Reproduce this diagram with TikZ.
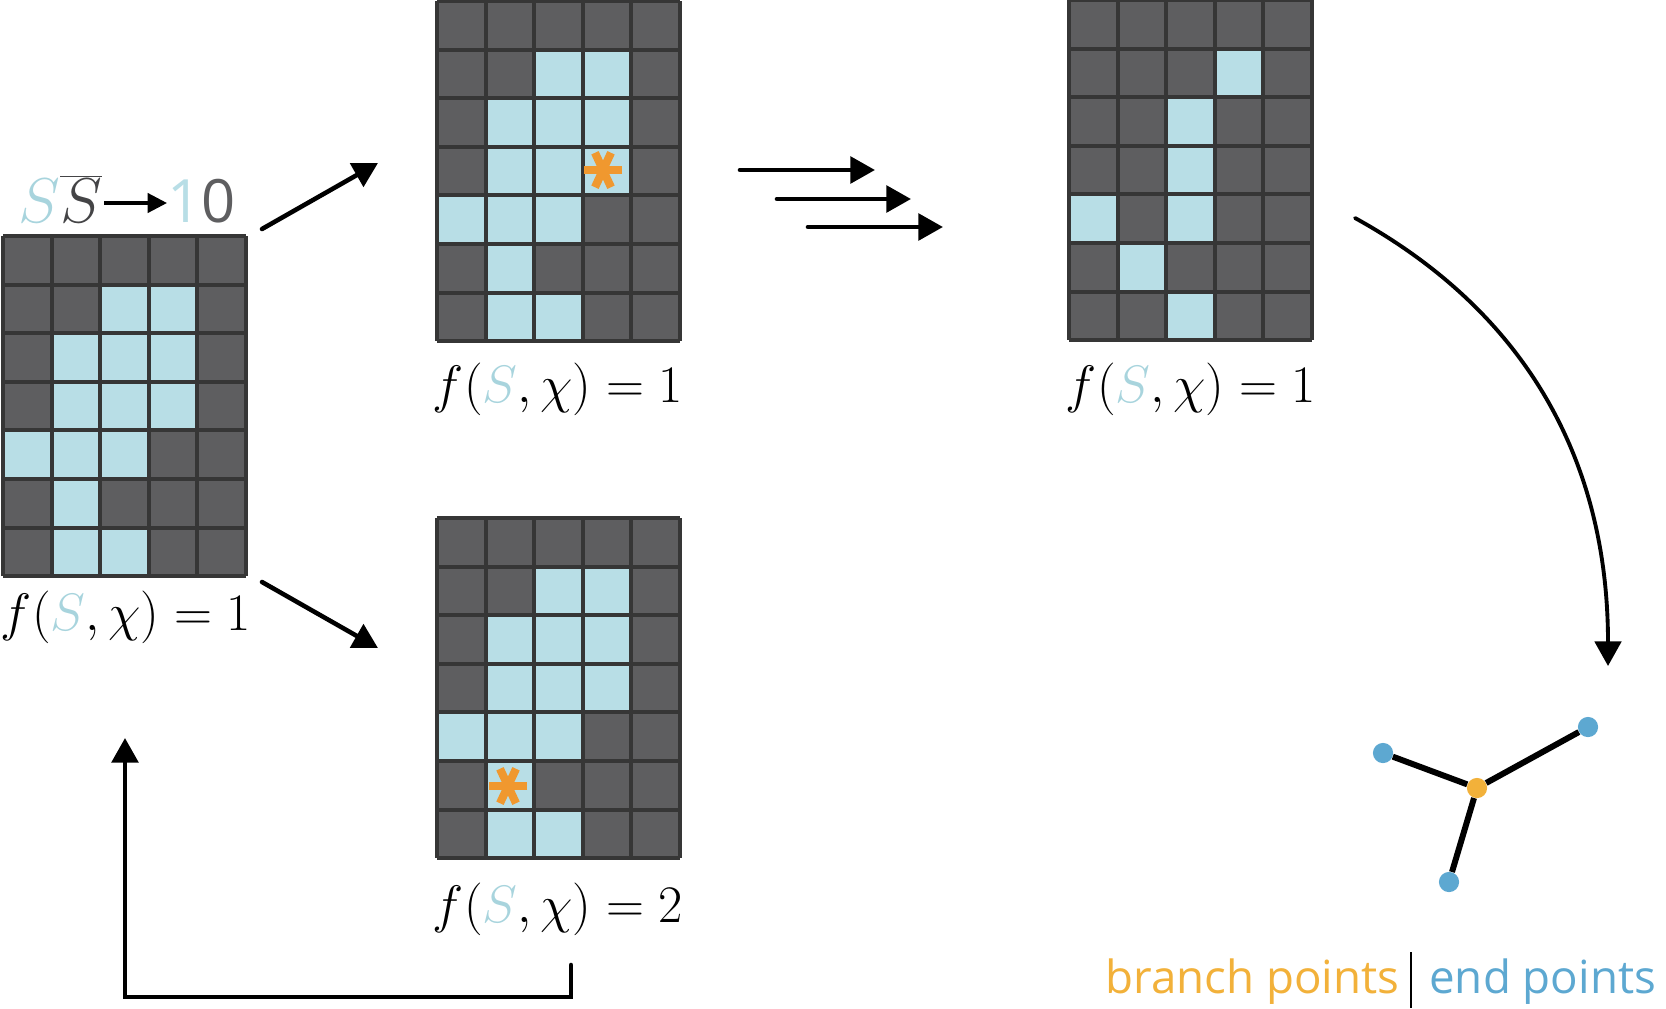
\RequirePackage{fix-cm}
\documentclass[tikz,border=0pt]{standalone}
\usepackage{fontspec}
\usetikzlibrary{arrows.meta}
\newfontfamily\legendfont{Open Sans}

\definecolor{celldark}{HTML}{5E5E60}
\definecolor{cellrule}{HTML}{363636}
\definecolor{celllight}{HTML}{B8DEE6}
\definecolor{starorange}{HTML}{F0982F}
\definecolor{branchorange}{HTML}{F2B13A}
\definecolor{endblue}{HTML}{5DA8D1}
\definecolor{setblue}{HTML}{A8D4DD}
\definecolor{bardark}{HTML}{444446}

\newcommand{\cellsz}{48.6}
\newcommand{\shapecells}{2/1,3/1,1/2,2/2,3/2,1/3,2/3,3/3,0/4,1/4,2/4,1/5,1/6,2/6}
\newcommand{\thincells}{3/1,2/2,2/3,0/4,2/4,1/5,2/6}
\newcommand{\pixgrid}[2]{%
  \begin{scope}[shift={#1}]
    \fill[celldark] (0,0) rectangle (5*\cellsz,7*\cellsz);
    \foreach \cx/\cy in #2
      \fill[celllight] (\cx*\cellsz,\cy*\cellsz) rectangle ++(\cellsz,\cellsz);
    \foreach \i in {0,...,5}
      \draw[gridrule] (\i*\cellsz,0) -- (\i*\cellsz,7*\cellsz);
    \foreach \j in {0,...,7}
      \draw[gridrule] (0,\j*\cellsz) -- (5*\cellsz,\j*\cellsz);
  \end{scope}}
\newcommand{\branchstar}[1]{%
  \foreach \a in {0,65,115}
    \draw[starorange, line width=4.6pt] (#1) ++(\a:19) -- ++(\a:-38);}

\begin{document}
\begin{tikzpicture}[x=0.02cm, y=-0.02cm,
    gridrule/.style={cellrule, line width=2.2pt},
    flow/.style={line width=2.6pt, line cap=round, -{Triangle[length=14pt,width=15pt]}},
    flabel/.style={anchor=base, font=\fontsize{30}{32}\selectfont},
    vertex/.style={circle, inner sep=0pt, minimum size=11.5pt},
    edge/.style={line width=3.4pt}]
    \useasboundingbox (0,0) rectangle (1666,1008);

    \pixgrid{(3,236)}{\shapecells}
    \pixgrid{(437,1)}{\shapecells}
    \pixgrid{(437,518)}{\shapecells}
    \pixgrid{(1069,0)}{\thincells}
    \branchstar{603,170}
    \branchstar{508,786}

    \node[flabel] (fA) at (126,630) {$f({\color{setblue}S},\chi) = 1$};
    \node[flabel] (fB) at (558,402) {$f({\color{setblue}S},\chi) = 1$};
    \node[flabel] (fC) at (558,922) {$f({\color{setblue}S},\chi) = 2$};
    \node[flabel] (fD) at (1191,402) {$f({\color{setblue}S},\chi) = 1$};

    \node[anchor=base west, inner sep=0pt, font=\fontsize{36}{38}\selectfont] (ss) at (18,222)
        {$\color{setblue}S\color{bardark}\overline{S}$};
    \node[anchor=base west, inner sep=0pt, font=\legendfont\fontsize{34}{36}\selectfont] (ten) at (167,222)
        {\color{celllight}1\color{celldark}0};
    \coordinate (ssarrow) at (104,203);
    \draw[line width=1.8pt, -{Triangle[length=11pt,width=11pt]}] (ssarrow) -- (ssarrow -| ten.west);

    \coordinate (outA) at (262,229);
    \coordinate (inB) at (378,163);
    \coordinate (outA2) at (262,582);
    \coordinate (inC) at (378,648);
    \draw[flow] (outA) -- (inB);
    \draw[flow] (outA2) -- (inC);

    \foreach \i/\sx/\ex/\yy in {1/740/875/170, 2/777/911/199, 3/808/943/227} {
        \coordinate (iterS\i) at (\sx,\yy);
        \coordinate (iterE\i) at (\ex,\yy);
        \draw[flow] (iterS\i) -- (iterE\i);
    }

    \coordinate (outD) at (1355,218);
    \coordinate (inG) at (1608,666);
    \draw[flow, line width=2.2pt] (outD) .. controls (1529,314) and (1608,464) .. (inG);

    \coordinate (backS) at (571,965);
    \coordinate (backC) at (125,997);
    \coordinate (inA) at (125,738);
    \draw[flow] (backS) |- (backC) -- (inA);

    \node[vertex, fill=branchorange] (br) at (1477,788) {};
    \node[vertex, fill=endblue] (e1) at (1383,753) {};
    \node[vertex, fill=endblue] (e2) at (1588,727) {};
    \node[vertex, fill=endblue] (e3) at (1449,882) {};
    \foreach \e in {e1,e2,e3}
        \draw[edge] (br) -- (\e);

    \node[anchor=base west, inner sep=0pt, text=branchorange, font=\legendfont\fontsize{26}{28}\selectfont] (brlegend) at (1105,993) {branch points};
    \node[anchor=base west, inner sep=0pt, text=endblue, font=\legendfont\fontsize{26}{28}\selectfont] (endlegend) at (1429,993) {end points};
    \draw[line width=1.3pt] (1411,952) -- (1411,1008);
\end{tikzpicture}
\end{document}
